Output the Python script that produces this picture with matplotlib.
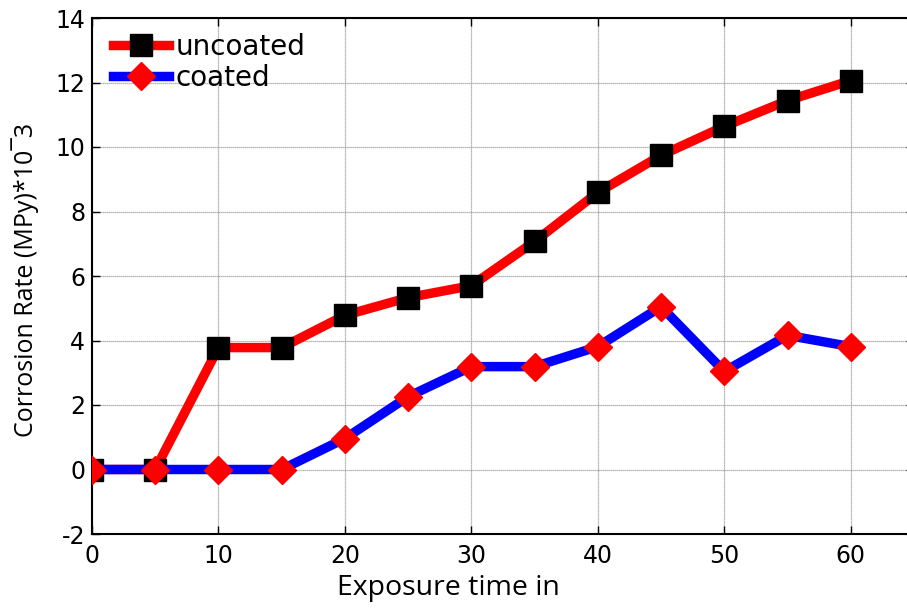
"""
Corrosion rate vs exposure time, uncoated vs coated samples.
"""
import matplotlib
matplotlib.use('Agg')
import matplotlib.pyplot as plt

# =============================================================================
# DATA
# =============================================================================
exposure_time = [0, 5, 10, 15, 20, 25, 30, 35, 40, 45, 50, 55, 60]
uncoated = [0, 0, 3.78, 3.78, 4.78, 5.33, 5.7, 7.07, 8.59, 9.74, 10.64, 11.44, 12.06]
coated = [0, 0, 0, 0, 0.96, 2.26, 3.19, 3.19, 3.81, 5.05, 3.04, 4.16, 3.81]

x_ticks = [0, 10, 20, 30, 40, 50, 60]
y_ticks = [-2, 0, 2, 4, 6, 8, 10, 12, 14]

LABEL_FONT = ['Open Sans', 'DejaVu Sans']

plt.rcParams['axes.unicode_minus'] = False

# =============================================================================
# FIGURE
# =============================================================================
fig = plt.figure(figsize=(9.07, 6.09), dpi=100)
# the right edge of the axes box falls outside the picture, as in the original
ax = fig.add_axes([92 / 907, 75 / 609, 822 / 907, 516 / 609])

ax.plot(exposure_time, uncoated, color='#ff0000', linewidth=6.8,
        marker='s', markersize=16, markerfacecolor='black',
        markeredgecolor='black', label='uncoated', zorder=3)
ax.plot(exposure_time, coated, color='#0000ff', linewidth=6.8,
        marker='D', markersize=14, markerfacecolor='#ff0000',
        markeredgecolor='#ff0000', label='coated', zorder=4)

ax.set_xlim(0, 65)
ax.set_ylim(-2, 14)
ax.set_xticks(x_ticks)
ax.set_yticks(y_ticks)
ax.grid(True, color='#a0a0a0', linewidth=0.9, linestyle=(0, (1, 0.6)))
ax.set_axisbelow(True)
ax.tick_params(direction='in', length=6, width=1, top=True, right=True,
               labelsize=17)
ax.tick_params(axis='x', pad=7)
ax.tick_params(axis='y', pad=5)
for s in ax.spines.values():
    s.set_linewidth(1.5)

ax.set_xlabel('Exposure time in', fontsize=20.5, family=LABEL_FONT)
ax.xaxis.set_label_coords((448 - 92) / 822, -(588 - 534) / 516, transform=ax.transAxes)
ax.xaxis.label.set_va('center')
ax.set_ylabel('Corrosion Rate (MPy)*10\u00af3', fontsize=18,
              family=LABEL_FONT)
ax.yaxis.set_label_coords(-(92 - 25) / 822, (534 - 280) / 516,
                          transform=ax.transAxes)
ax.yaxis.label.set_va('center')

leg = ax.legend(loc='upper left', frameon=False, fontsize=20,
                handlelength=2.0, handletextpad=0.25, labelspacing=0.1,
                borderpad=0, borderaxespad=0,
                bbox_to_anchor=((113 - 92) / 822, 1 - (33 - 18) / 516))

fig.savefig('out.png', dpi=100)
plt.close(fig)
